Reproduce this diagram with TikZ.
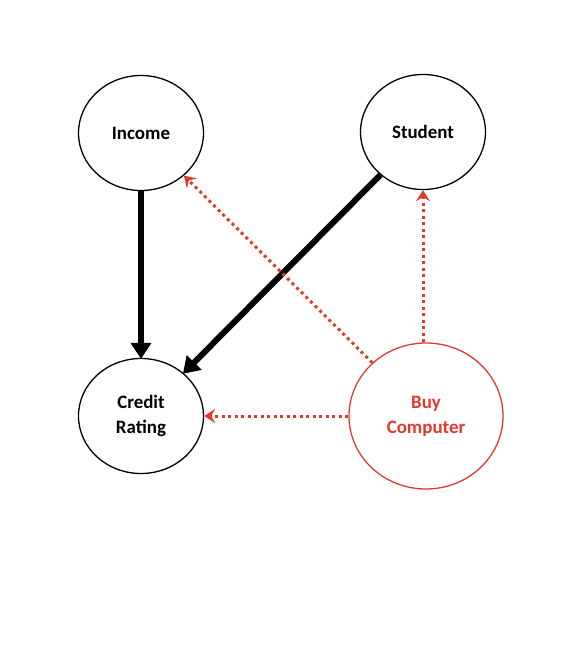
\documentclass[tikz,border=0pt]{standalone}
\usepackage{fontspec}
\setmainfont{Carlito}
\usetikzlibrary{shapes.geometric,arrows.meta}
\definecolor{bcred}{RGB}{222,59,46}
\tikzset{
  var/.style={draw=black, line width=1.3bp, ellipse, inner sep=0pt,
    minimum width=125bp, minimum height=115bp, align=center,
    font=\fontsize{19}{25}\selectfont\bfseries},
  target/.style={var, draw=bcred, text=bcred, minimum width=154bp, minimum height=146bp},
  solidedge/.style={line width=6bp, -{Triangle[length=16bp,width=20bp]}, shorten >=-1bp},
  dotedge/.style={draw=bcred, line width=3bp, dash pattern=on 3bp off 3.5bp,
    -{Stealth[length=11bp,width=14bp,inset=4bp]}}
}
\begin{document}
\begin{tikzpicture}[x=1bp,y=-1bp]
\useasboundingbox (0,0) rectangle (584,648);
\node[var] (inc) at (141,133) {Income};
\node[var] (stu) at (423,132) {Student};
\node[var] (cr) at (141,416) {Credit\\Rating};
\node[target] (buy) at (426,416) {Buy\\Computer};
\draw[solidedge] (inc) -- (cr);
\draw[solidedge] (stu) -- (cr);
\draw[dotedge] (buy) -- (inc);
\draw[dotedge] (buy.north -| stu.south) -- (stu.south);
\draw[dotedge] (buy) -- (cr);
\end{tikzpicture}
\end{document}
